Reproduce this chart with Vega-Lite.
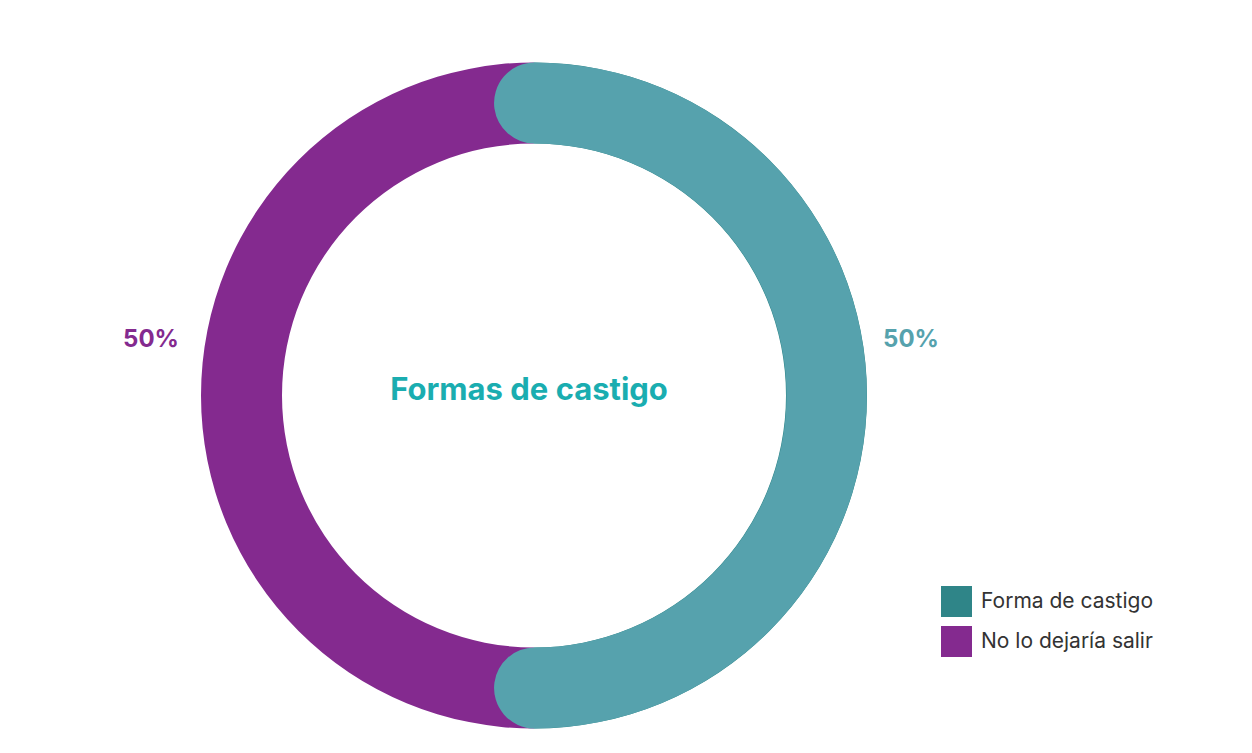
{
  "$schema": "https://vega.github.io/schema/vega-lite/v6.json",
  "width": 1068,
  "height": 353,
  "autosize": {"type": "none"},
  "padding": {"left": 0, "top": 219, "right": 184, "bottom": 181},
  "background": "white",
  "config": {
    "view": {"stroke": null},
    "font": "Inter",
    "legend": {
      "title": null,
      "orient": "bottom-right",
      "offset": -85,
      "padding": 0,
      "symbolType": "square",
      "symbolSize": 961,
      "symbolStrokeWidth": 0,
      "symbolOpacity": 1,
      "labelFontSize": 21,
      "labelFont": "Inter",
      "labelColor": "#333333",
      "labelLimit": 400,
      "rowPadding": 9,
      "labelOffset": 9
    }
  },
  "data": {
    "values": [
      {"cat": "Forma de castigo", "v": 0.5},
      {"cat": "No lo dejaría salir", "v": 0.5}
    ]
  },
  "layer": [
    {
      "mark": {"type": "arc", "innerRadius": 252, "outerRadius": 333},
      "encoding": {
        "theta": {"field": "v", "type": "quantitative", "stack": true},
        "color": {
          "field": "cat",
          "type": "nominal",
          "scale": {"domain": ["Forma de castigo", "No lo dejaría salir"], "range": ["#2f8588", "#842a8f"]},
          "legend": {"title": null}
        }
      }
    },
    {
      "transform": [
        {"stack": "v", "groupby": [], "sort": [{"field": "cat", "order": "ascending"}], "as": ["s0", "s1"]},
        {"filter": "datum.cat === 'Forma de castigo'"}
      ],
      "mark": {"type": "arc", "innerRadius": 252, "outerRadius": 333, "cornerRadius": 40.5, "thetaOffset": -0.137, "theta2Offset": 0.137, "color": "#56a2ad"},
      "encoding": {
        "theta": {"field": "s0", "type": "quantitative"},
        "theta2": {"field": "s1"}
      }
    },
    {
      "mark": {"type": "text", "radius": 380, "fontSize": 24, "fontWeight": "bold", "baseline": "alphabetic", "align": "center", "dy": -48.5, "dx": -3},
      "encoding": {
        "theta": {"field": "v", "type": "quantitative", "stack": true},
        "detail": {"field": "cat", "type": "nominal"},
        "text": {"field": "v", "type": "quantitative", "format": ".0%"},
        "color": {"condition": {"test": "datum.cat === 'Forma de castigo'", "value": "#56a2ad"}, "value": "#842a8f"}
      }
    },
    {
      "data": {"values": [{"t": "Formas de castigo"}]},
      "mark": {"type": "text", "fontSize": 31, "fontWeight": "bold", "color": "#1aadb0", "baseline": "alphabetic", "align": "center", "dy": 4.5, "dx": -5},
      "encoding": {"text": {"field": "t", "type": "nominal"}}
    }
  ]
}
